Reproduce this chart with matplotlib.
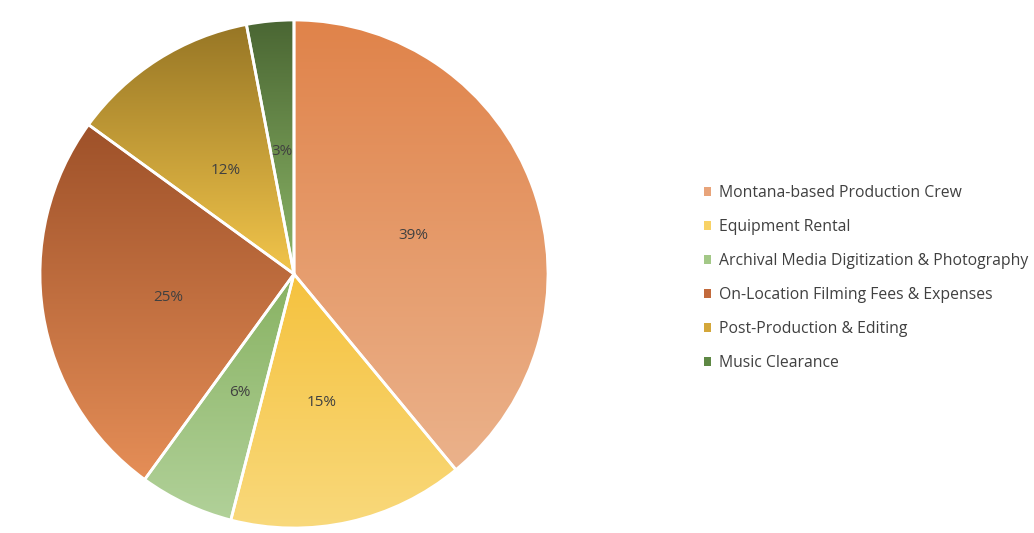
import numpy as np
import matplotlib
matplotlib.use('Agg')
import matplotlib.pyplot as plt
from matplotlib.patches import Patch
from matplotlib.colors import to_rgb

categories = ['Montana-based Production Crew', 'Equipment Rental',
              'Archival Media Digitization & Photography',
              'On-Location Filming Fees & Expenses',
              'Post-Production & Editing', 'Music Clearance']
shares = [39, 15, 6, 25, 12, 3]

# gradient colours, top -> bottom of each slice
top_colors = ['#E0834A', '#F5C23E', '#88B262', '#9E5129', '#977625', '#4A6633']
bottom_colors = ['#EBB28B', '#F9D97C', '#B1D199', '#E58E57', '#F2C54B', '#8DB768']
legend_colors = ['#E8A47A', '#F8D266', '#A3C887', '#C26A3C', '#D4A73A', '#5E8844']

plt.rcParams['font.family'] = ['Open Sans', 'DejaVu Sans']

fig = plt.figure(figsize=(10.34, 5.33), dpi=100)
W, H = 1034, 533
cx, cy, r = 294, 533 - 274, 254
ax = fig.add_axes([(cx - r) / W, (cy - r) / H, 2 * r / W, 2 * r / H])

wedges, texts, autotexts = ax.pie(
    shares, startangle=90, counterclock=False, radius=1,
    autopct='%1.0f%%', pctdistance=0.5,
    wedgeprops=dict(edgecolor='white', linewidth=2, facecolor='none'),
    textprops=dict(color='#404040', fontsize=11))

for w, c0, c1 in zip(wedges, top_colors, bottom_colors):
    w.set_zorder(3)
    verts = w.get_path().transformed(w.get_patch_transform()).vertices
    x0, y0 = verts.min(axis=0)
    x1, y1 = verts.max(axis=0)
    t = np.linspace(0, 1, 256)[:, None, None]
    grad = (1 - t) * np.array(to_rgb(c0)) + t * np.array(to_rgb(c1))
    im = ax.imshow(grad, extent=(x0, x1, y0, y1), origin='upper',
                   aspect='auto', zorder=2, interpolation='bilinear')
    im.set_clip_path(w)

for t in autotexts:
    t.set_zorder(5)
    x, y = t.get_position()
    t.set_position((x, y - 0.016))

ax.set_xlim(-1.0, 1.0)
ax.set_ylim(-1.0, 1.0)
ax.set_aspect('equal')
ax.axis('off')

handles = [Patch(facecolor=c, edgecolor='none') for c in legend_colors]
fig.legend(handles, categories, loc='upper left',
           bbox_to_anchor=(704 / W, 1 - 185 / H), frameon=False,
           fontsize=11.3, labelcolor='#404040', handlelength=0.45,
           handleheight=0.45, handletextpad=0.5, labelspacing=1.15,
           borderaxespad=0, borderpad=0)

fig.savefig('out.png', dpi=100)
